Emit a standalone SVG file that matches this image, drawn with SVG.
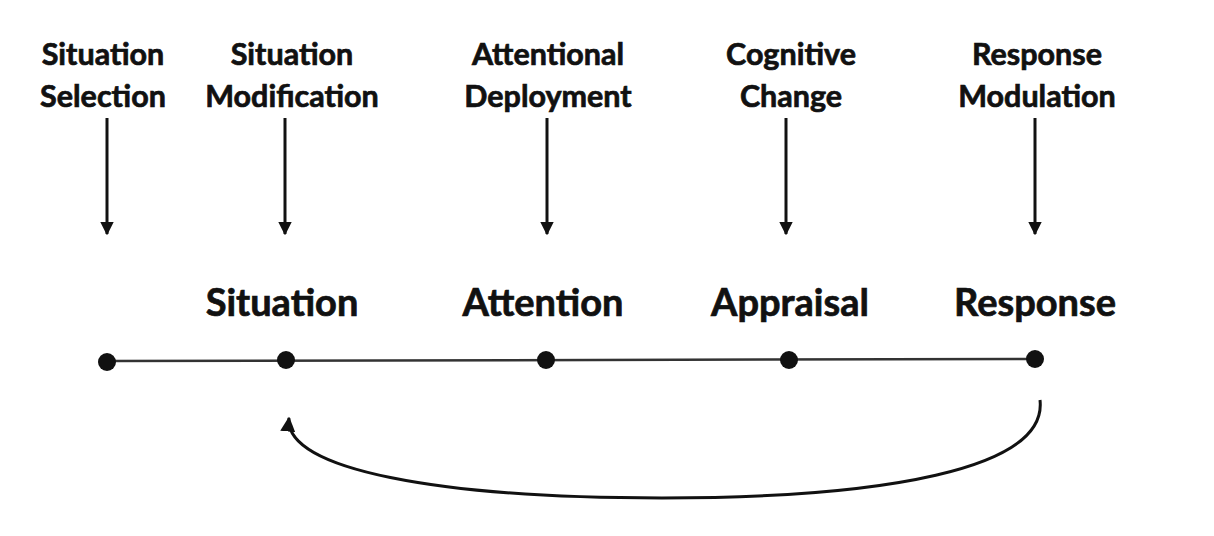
<svg xmlns="http://www.w3.org/2000/svg" width="1214" height="536" viewBox="0 0 1214 536">
<style>
.t{font-family:Lato,"Open Sans","Liberation Sans",sans-serif;font-weight:bold;fill:#111;stroke:#111;stroke-width:0.7;text-anchor:middle}
.top{font-size:30.5px}
.bot{font-size:38px}
.c{stroke:#111;stroke-width:3;fill:none}
.tl{stroke:#333;stroke-width:2.5;fill:none}
.dot{fill:#111}
</style>
<defs>
<marker id="ah" viewBox="0 0 10 10" refX="9" refY="5" markerWidth="4.6" markerHeight="4.6" orient="auto" markerUnits="strokeWidth">
<path d="M0,0 L10,5 L0,10 z" fill="#111"/>
</marker>
<marker id="ah2" viewBox="0 0 10 10" refX="9" refY="5" markerWidth="5" markerHeight="5" orient="auto" markerUnits="strokeWidth">
<path d="M0,0 L10,5 L0,10 z" fill="#111"/>
</marker>
</defs>
<rect width="1214" height="536" fill="#fff"/>
<g id="connectors">
<line class="c" x1="107" y1="118" x2="107" y2="234" marker-end="url(#ah)"/>
<line class="c" x1="285" y1="118" x2="285" y2="234" marker-end="url(#ah)"/>
<line class="c" x1="547" y1="118" x2="547" y2="234" marker-end="url(#ah)"/>
<line class="c" x1="786" y1="118" x2="786" y2="234" marker-end="url(#ah)"/>
<line class="c" x1="1035" y1="118" x2="1035" y2="234" marker-end="url(#ah)"/>
<line class="tl" x1="107" y1="361" x2="1035" y2="359"/>
<path class="c" d="M1040 400 C1048 470 880 498 662 498 C440 498 284 470 289 418" stroke-width="2.5" marker-end="url(#ah2)"/>
</g>
<g id="n-selection"><text class="t top" x="103" y="65">Situation</text><text class="t top" x="103" y="107">Selection</text></g>
<g id="n-modification"><text class="t top" x="292" y="65">Situation</text><text class="t top" x="292" y="107">Modification</text></g>
<g id="n-deployment"><text class="t top" x="548" y="65">Attentional</text><text class="t top" x="548" y="107">Deployment</text></g>
<g id="n-cognitive"><text class="t top" x="791" y="65">Cognitive</text><text class="t top" x="791" y="107">Change</text></g>
<g id="n-modulation"><text class="t top" x="1037" y="65">Response</text><text class="t top" x="1037" y="107">Modulation</text></g>
<g id="n-situation"><text class="t bot" x="282" y="316">Situation</text><circle class="dot" cx="286" cy="360" r="9"/></g>
<g id="n-attention"><text class="t bot" x="543" y="316">Attention</text><circle class="dot" cx="546" cy="360" r="9"/></g>
<g id="n-appraisal"><text class="t bot" x="790" y="316">Appraisal</text><circle class="dot" cx="789" cy="360" r="9"/></g>
<g id="n-response"><text class="t bot" x="1035" y="316">Response</text><circle class="dot" cx="1035" cy="359" r="9"/></g>
<g id="n-start"><circle class="dot" cx="107" cy="362" r="9"/></g>
</svg>
